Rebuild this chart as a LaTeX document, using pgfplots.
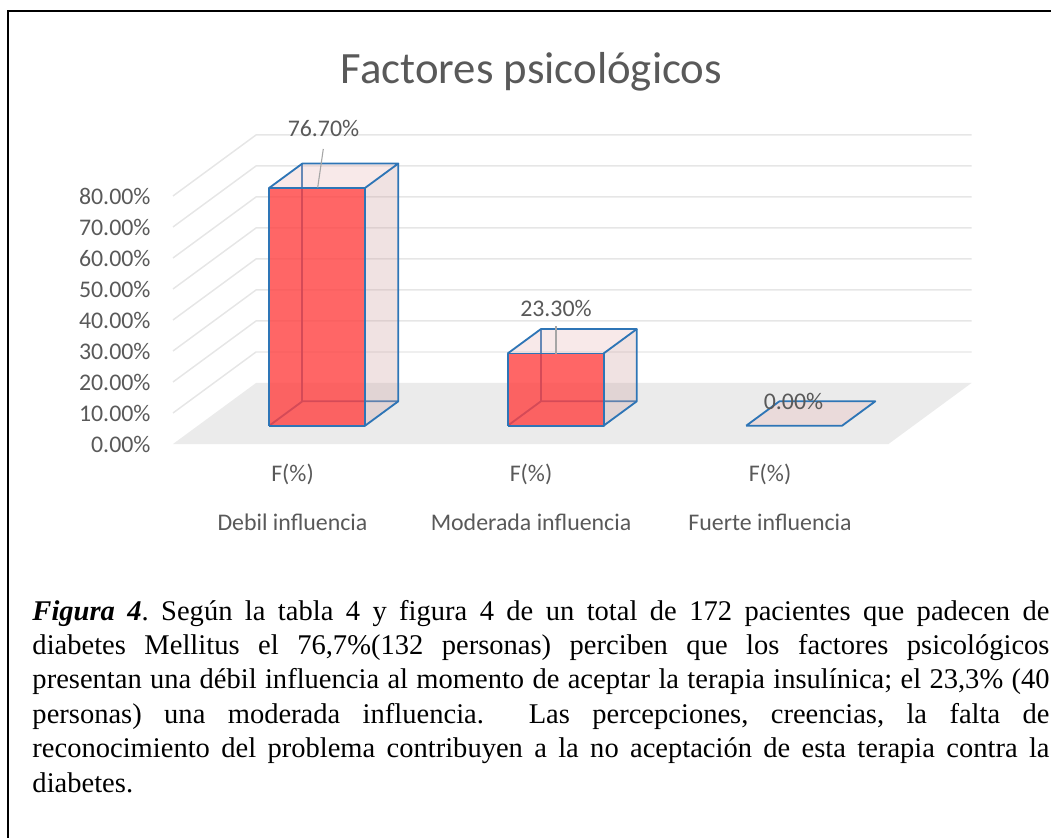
\documentclass[border=0pt]{standalone}
\usepackage{fontspec}
\setmainfont{Liberation Serif}
\newfontfamily\calfont{Carlito}
\newfontfamily\caltitle{Carlito}
\usepackage{pgfplots}
\pgfplotsset{compat=1.18}
\definecolor{txt}{RGB}{89,89,89}
\definecolor{gridc}{RGB}{230,230,230}
\definecolor{floorc}{RGB}{235,235,235}
\definecolor{edge}{RGB}{46,117,182}
\definecolor{frontc}{RGB}{255,64,64}
\definecolor{sidec}{RGB}{205,160,160}
\definecolor{topc}{RGB}{232,182,182}
\definecolor{leader}{RGB}{166,166,166}
\begin{document}
\begin{tikzpicture}
\begin{axis}[
  x={(96.95pt,0pt)}, y={(33.74pt,24.80pt)}, z={(0pt,1.2602pt)},
  xmin=0,xmax=3,ymin=0,ymax=1,zmin=0,zmax=80,
  hide axis, clip=false,
  every axis plot/.append style={line join=round},
]
\coordinate (O) at (axis cs:0,0,0);
% floor
\addplot3[fill=floorc, draw=none] coordinates {(0,0,0) (3,0,0) (3,1,0) (0,1,0) (0,0,0)};
% side wall and back wall gridlines
\addplot3[gridc, line width=0.6pt] coordinates {(0,0,10) (0,1,10) (3,1,10)};
\addplot3[gridc, line width=0.6pt] coordinates {(0,0,20) (0,1,20) (3,1,20)};
\addplot3[gridc, line width=0.6pt] coordinates {(0,0,30) (0,1,30) (3,1,30)};
\addplot3[gridc, line width=0.6pt] coordinates {(0,0,40) (0,1,40) (3,1,40)};
\addplot3[gridc, line width=0.6pt] coordinates {(0,0,50) (0,1,50) (3,1,50)};
\addplot3[gridc, line width=0.6pt] coordinates {(0,0,60) (0,1,60) (3,1,60)};
\addplot3[gridc, line width=0.6pt] coordinates {(0,0,70) (0,1,70) (3,1,70)};
\addplot3[gridc, line width=0.6pt] coordinates {(0,0,80) (0,1,80) (3,1,80)};
% ---- Bar 1: Debil influencia 76.7
\addplot3[edge, line width=0.75pt] coordinates {(0.299,0.3,0) (0.299,0.7,0) (0.701,0.7,0)};
\addplot3[edge, line width=0.75pt] coordinates {(0.299,0.7,0) (0.299,0.7,76.7)};
\addplot3[fill=sidec, fill opacity=0.3, draw=none] coordinates {(0.701,0.3,0) (0.701,0.7,0) (0.701,0.7,76.7) (0.701,0.3,76.7)};
\addplot3[fill=topc, fill opacity=0.3, draw=none] coordinates {(0.299,0.3,76.7) (0.701,0.3,76.7) (0.701,0.7,76.7) (0.299,0.7,76.7)};
\addplot3[fill=frontc, fill opacity=0.8, draw=none] coordinates {(0.299,0.3,0) (0.701,0.3,0) (0.701,0.3,76.7) (0.299,0.3,76.7)};
\addplot3[edge, line width=0.75pt] coordinates {(0.299,0.3,0) (0.701,0.3,0) (0.701,0.3,76.7) (0.299,0.3,76.7) (0.299,0.3,0)};
\addplot3[edge, line width=0.75pt] coordinates {(0.299,0.3,76.7) (0.299,0.7,76.7) (0.701,0.7,76.7) (0.701,0.3,76.7)};
\addplot3[edge, line width=0.75pt] coordinates {(0.701,0.7,76.7) (0.701,0.7,0) (0.701,0.3,0)};
% ---- Bar 2: Moderada influencia 23.3
\addplot3[edge, line width=0.75pt] coordinates {(1.299,0.3,0) (1.299,0.7,0) (1.701,0.7,0)};
\addplot3[edge, line width=0.75pt] coordinates {(1.299,0.7,0) (1.299,0.7,23.3)};
\addplot3[fill=sidec, fill opacity=0.3, draw=none] coordinates {(1.701,0.3,0) (1.701,0.7,0) (1.701,0.7,23.3) (1.701,0.3,23.3)};
\addplot3[fill=topc, fill opacity=0.3, draw=none] coordinates {(1.299,0.3,23.3) (1.701,0.3,23.3) (1.701,0.7,23.3) (1.299,0.7,23.3)};
\addplot3[fill=frontc, fill opacity=0.8, draw=none] coordinates {(1.299,0.3,0) (1.701,0.3,0) (1.701,0.3,23.3) (1.299,0.3,23.3)};
\addplot3[edge, line width=0.75pt] coordinates {(1.299,0.3,0) (1.701,0.3,0) (1.701,0.3,23.3) (1.299,0.3,23.3) (1.299,0.3,0)};
\addplot3[edge, line width=0.75pt] coordinates {(1.299,0.3,23.3) (1.299,0.7,23.3) (1.701,0.7,23.3) (1.701,0.3,23.3)};
\addplot3[edge, line width=0.75pt] coordinates {(1.701,0.7,23.3) (1.701,0.7,0) (1.701,0.3,0)};
% ---- Bar 3: Fuerte influencia 0
\addplot3[fill=topc, fill opacity=0.3, draw=none] coordinates {(2.299,0.3,0) (2.701,0.3,0) (2.701,0.7,0) (2.299,0.7,0)};
\addplot3[edge, line width=0.75pt] coordinates {(2.299,0.3,0) (2.701,0.3,0) (2.701,0.7,0) (2.299,0.7,0) (2.299,0.3,0)};
\end{axis}
\begin{scope}[shift={(O)}]
\begin{scope}[x=0.4065pt, y=-0.4065pt, shift={(-173,-444)}]
  % frame
  \draw[line width=0.9pt] (8,850) -- (8,11) -- (1060,11);
  % title
  \node[anchor=base, inner sep=0, text=txt, font=\caltitle\fontsize{18.2}{22}\selectfont] at (531.5,84) {Factores psicológicos};
  % tick labels
  \begin{scope}[every node/.style={anchor=east, inner sep=0, text=txt, font=\calfont\fontsize{9.7}{11}\selectfont}]
    \node at (151,444) {0.00\%};
    \node at (151,413) {10.00\%};
    \node at (151,382) {20.00\%};
    \node at (151,351) {30.00\%};
    \node at (151,320) {40.00\%};
    \node at (151,289) {50.00\%};
    \node at (151,258) {60.00\%};
    \node at (151,227) {70.00\%};
    \node at (151,196) {80.00\%};
  \end{scope}
  % category labels and data labels
  \begin{scope}[every node/.style={anchor=base, inner sep=0, text=txt, font=\calfont\fontsize{9.7}{11}\selectfont}]
    \node at (292.5,481) {F(\%)};
    \node at (531,481) {F(\%)};
    \node at (770,481) {F(\%)};
    \node at (292.5,530) {Debil influencia};
    \node at (531,530) {Moderada influencia};
    \node at (770,530) {Fuerte influencia};
    \node at (323.5,137) {76.70\%};
    \node at (556,317) {23.30\%};
    \node at (793.5,409) {0.00\%};
  \end{scope}
  \draw[leader, line width=0.45pt] (323.3,149) -- (317.7,187.5);
  \draw[leader, line width=0.45pt] (556,326) -- (556,353.5);
  % caption
  \node[anchor=base west, inner sep=0] at (32,620) {\parbox[t]{413.4pt}{\fontsize{11.6}{14}\selectfont\frenchspacing
    \textbf{\textit{Figura 4}}. Según la tabla 4 y figura 4 de un total de 172 pacientes que padecen de\linebreak
    diabetes Mellitus el 76,7\%(132 personas) perciben que los factores psicológicos\linebreak
    presentan una débil influencia al momento de aceptar la terapia insulínica; el 23,3\% (40\linebreak
    personas) una moderada influencia.\ \ Las percepciones, creencias, la falta de\linebreak
    reconocimiento del problema contribuyen a la no aceptación de esta terapia contra la\linebreak
    diabetes.}};
  \pgfresetboundingbox
  \useasboundingbox (0,0) rectangle (1051,838);
\end{scope}
\end{scope}
\end{tikzpicture}
\end{document}
